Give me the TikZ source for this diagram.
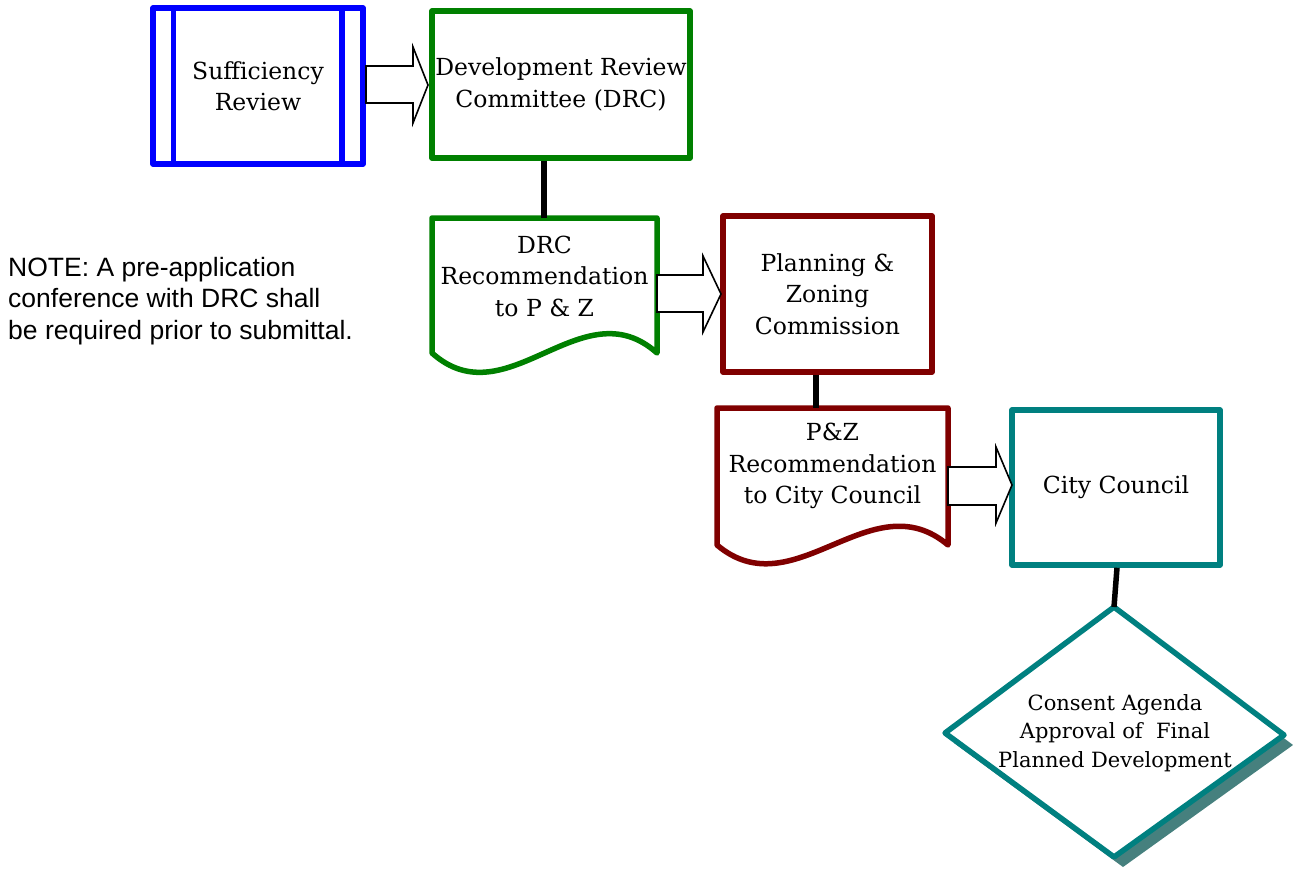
\documentclass[tikz,border=0pt]{standalone}
\usepackage{fontspec}
\setmainfont{DejaVu Serif}
\newfontfamily\notefont{Liberation Sans}
\definecolor{cblue}{RGB}{0,0,255}
\definecolor{cgreen}{RGB}{0,128,0}
\definecolor{cred}{RGB}{128,0,0}
\definecolor{cteal}{RGB}{0,128,128}
\definecolor{cshadow}{RGB}{70,128,126}
\begin{document}
\begin{tikzpicture}[x=1pt,y=-1pt,
  boxtext/.style={font=\fontsize{23.5}{31.5}\selectfont, align=center, inner sep=0pt},
  procbox/.style={boxtext, draw, line width=5.5pt, line join=round, fill=white},
  docbox/.style={boxtext},
  docline/.style={line width=5.5pt, line join=round, fill=white},
  link/.style={line width=5.5pt, black},
  blockarrow/.style={draw=black, line width=1.6pt, fill=white, line join=miter}]
\useasboundingbox (0,0) rectangle (1293,876);

% Sufficiency Review (predefined process)
\node[procbox, draw=cblue, minimum width=210, minimum height=156] (suff) at (258,86) {Sufficiency\\Review};
\draw[cblue, line width=5.5pt] ([xshift=23pt]suff.north west) -- ([xshift=23pt]suff.south west);
\draw[cblue, line width=5.5pt] ([xshift=-24pt]suff.north east) -- ([xshift=-24pt]suff.south east);

% DRC
\node[procbox, draw=cgreen, minimum width=258, minimum height=147] (drc) at (561,84.5) {Development Review\\Committee (DRC)};

% DRC recommendation (document)
\draw[docline, draw=cgreen] (432,218) -- (657,218) -- (657,353) .. controls (582,286) and (507,420) .. (432,353) -- cycle;
\node[docbox] (drcrec) at (544.5,276) {DRC\\Recommendation\\to P \& Z};
\coordinate (drcrectop) at (544,218);

% P&Z
\node[procbox, draw=cred, minimum width=209, minimum height=156] (pz) at (827.5,294) {Planning \&\\Zoning\\Commission};

% P&Z recommendation (document)
\draw[docline, draw=cred] (717,408) -- (948,408) -- (948,545) .. controls (871,480) and (794,610) .. (717,545) -- cycle;
\node[docbox] (pzrec) at (832.5,466) {P\&Z\\Recommendation\\to City Council};
\coordinate (pzrectop) at (816,408);

% City Council
\node[procbox, draw=cteal, minimum width=208, minimum height=155] (city) at (1116,487.5) {City Council};

% Consent agenda (decision)
\coordinate (dtop) at (1114,607);
\coordinate (dleft) at (945,733);
\coordinate (dright) at (1284,735);
\coordinate (dbottom) at (1114,857);
\fill[cshadow] ([shift={(9,10)}]dtop) -- ([shift={(9,10)}]dright) -- ([shift={(9,10)}]dbottom) -- ([shift={(9,10)}]dleft) -- cycle;
\draw[cteal, line width=5.5pt, line join=round, fill=white] (dtop) -- (dright) -- (dbottom) -- (dleft) -- cycle;
\node[boxtext, font=\fontsize{21}{28.5}\selectfont] (consent) at (1115,733) {Consent Agenda\\Approval of\ \ Final\\Planned Development};

% connectors
\draw[link] (drc.south -| drcrectop) -- (drcrectop);
\draw[link] (pz.south -| pzrectop) -- (pzrectop);
\draw[link] ([xshift=1pt]city.south) -- (dtop);

% block arrows
\draw[blockarrow] (366,66) -- (413,66) -- (413,47) -- (428,85) -- (413,123) -- (413,103) -- (366,103) -- cycle;
\draw[blockarrow] (657,275) -- (703,275) -- (703,256) -- (721,294) -- (703,332) -- (703,312) -- (657,312) -- cycle;
\draw[blockarrow] (948,467) -- (996,467) -- (996,447) -- (1012,485) -- (996,523) -- (996,505) -- (948,505) -- cycle;

% note
\node[anchor=north west, inner sep=0pt, align=left, font=\notefont\fontsize{26.5}{31.5}\selectfont] (note) at (8,257) {NOTE: A pre-application\\conference with DRC shall\\be required prior to submittal.};
\end{tikzpicture}
\end{document}
